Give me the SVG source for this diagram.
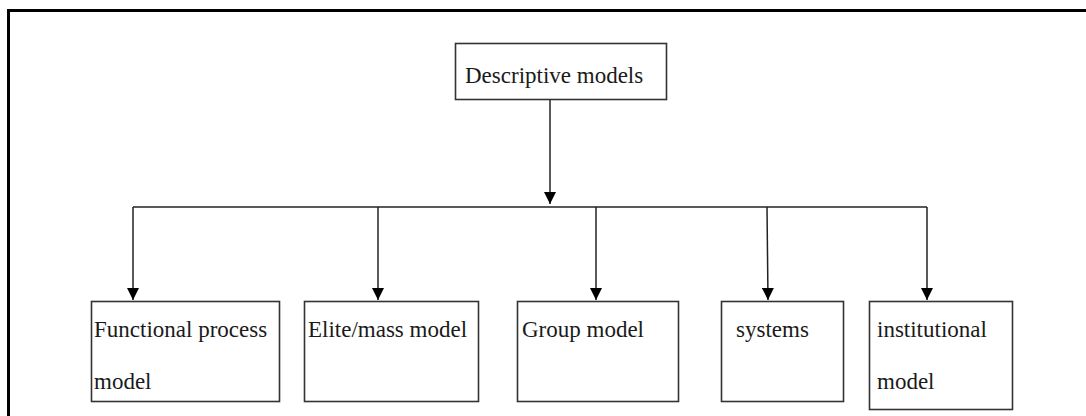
<svg xmlns="http://www.w3.org/2000/svg" width="1086" height="416" viewBox="0 0 1086 416">
<style>
.box{fill:#fff;stroke:#333;stroke-width:1.6}
.lbl{font-family:"Liberation Serif","Times New Roman",serif;font-size:23px;fill:#1a1a1a}
.con{fill:none;stroke:#222;stroke-width:1.5}
</style>
<defs>
<marker id="ah" markerUnits="userSpaceOnUse" markerWidth="12" markerHeight="12" viewBox="0 0 12 12" refX="12" refY="6" orient="auto">
<path d="M0 0 L12 6 L0 12 Z" fill="#000"/>
</marker>
</defs>
<rect width="1086" height="416" fill="#fff"/>
<path d="M8.5 416 V10.5 H1086" fill="none" stroke="#000" stroke-width="3"/>
<g id="connectors">
<path class="con" d="M550 99 V204" marker-end="url(#ah)"/>
<path class="con" d="M133 207 H927"/>
<path class="con" d="M133 207 V300" marker-end="url(#ah)"/>
<path class="con" d="M378 207 V300" marker-end="url(#ah)"/>
<path class="con" d="M596 207 V300" marker-end="url(#ah)"/>
<path class="con" d="M767 207 L768 300" marker-end="url(#ah)"/>
<path class="con" d="M927 207 V300" marker-end="url(#ah)"/>
</g>
<g id="descriptive">
<rect class="box" x="455.5" y="43.5" width="211" height="56"/>
<text class="lbl" x="465" y="83">Descriptive models</text>
</g>
<g id="functional">
<rect class="box" x="91.5" y="301.5" width="188" height="100"/>
<text class="lbl" x="94" y="337">Functional process</text>
<text class="lbl" x="94" y="389">model</text>
</g>
<g id="elite">
<rect class="box" x="304.5" y="301.5" width="174" height="100"/>
<text class="lbl" x="308" y="337">Elite/mass model</text>
</g>
<g id="group">
<rect class="box" x="517.5" y="301.5" width="161" height="100"/>
<text class="lbl" x="522" y="337">Group model</text>
</g>
<g id="systems">
<rect class="box" x="721.5" y="301.5" width="122" height="100"/>
<text class="lbl" x="736" y="337">systems</text>
</g>
<g id="institutional">
<rect class="box" x="869.5" y="301.5" width="143" height="108"/>
<text class="lbl" x="877" y="337">institutional</text>
<text class="lbl" x="877" y="389">model</text>
</g>
</svg>
